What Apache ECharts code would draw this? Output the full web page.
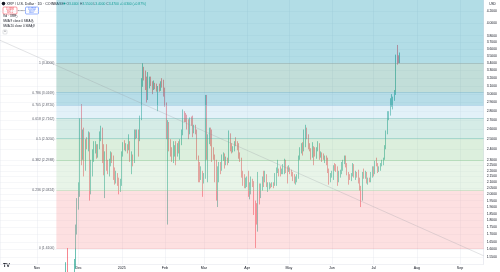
<!DOCTYPE html>
<html><head><meta charset="utf-8">
<script src="https://cdn.jsdelivr.net/npm/echarts@6/dist/echarts.min.js"></script>
<style>html,body{margin:0;padding:0;background:#fff}#c{width:500px;height:272px}</style>
</head><body><div id="c"></div>
<script>
// Daily candles [open, high, low, close], XRP / U.S. Dollar, 1D, COINBASE
const nov24 = [ // from Nov 18
[1.05,1.17,1.03,1.12],[1.12,1.14,1.06,1.08],[1.08,1.13,1.05,1.10],[1.10,1.38,1.08,1.36],[1.36,1.52,1.34,1.50],
[1.50,1.61,1.40,1.45],[1.45,1.50,1.36,1.42],[1.42,1.48,1.34,1.40],[1.40,1.45,1.33,1.38],[1.38,1.49,1.35,1.46],
[1.46,1.54,1.43,1.50],[1.50,1.77,1.48,1.72],[1.72,1.97,1.70,1.93]];
const dec24 = [
[1.93,2.10,1.88,2.05],[2.05,2.72,1.98,2.66],[2.66,2.88,2.25,2.52],[2.52,2.60,2.30,2.57],[2.57,2.62,2.15,2.24],
[2.24,2.50,2.20,2.46],[2.46,2.52,2.40,2.44],[2.44,2.58,2.38,2.55],[2.55,2.57,1.95,2.12],[2.12,2.30,2.00,2.18],
[2.18,2.40,2.15,2.35],[2.35,2.48,2.28,2.42],[2.42,2.48,2.36,2.43],[2.43,2.45,2.31,2.36],[2.36,2.45,2.32,2.43],
[2.43,2.58,2.40,2.52],[2.52,2.64,2.48,2.60],[2.60,2.62,2.27,2.32],[2.32,2.45,2.16,2.30],[2.30,2.38,1.97,2.33],
[2.33,2.45,2.20,2.25],[2.25,2.30,2.17,2.22],[2.22,2.31,2.15,2.27],[2.27,2.38,2.24,2.35],[2.35,2.37,2.27,2.30],
[2.30,2.34,2.12,2.16],[2.16,2.23,2.08,2.13],[2.13,2.20,2.09,2.15],[2.15,2.18,2.07,2.08],[2.08,2.14,2.00,2.04],
[2.04,2.13,2.02,2.08]];
const jan25 = [
[2.08,2.38,2.07,2.36],[2.36,2.47,2.33,2.44],[2.44,2.49,2.39,2.43],[2.43,2.46,2.38,2.44],[2.44,2.45,2.36,2.41],
[2.41,2.55,2.39,2.43],[2.43,2.48,2.28,2.31],[2.31,2.38,2.17,2.32],[2.32,2.35,2.24,2.28],[2.28,2.60,2.27,2.57],
[2.57,2.60,2.50,2.55],[2.55,2.60,2.51,2.55],[2.55,2.60,2.33,2.50],[2.50,2.75,2.48,2.73],[2.73,3.20,2.70,3.13],
[3.13,3.40,3.09,3.28],[3.28,3.35,3.17,3.27],[3.27,3.30,3.05,3.16],[3.16,3.22,2.90,3.00],[3.00,3.28,2.93,3.13],
[3.13,3.22,3.07,3.19],[3.19,3.22,3.10,3.13],[3.13,3.16,3.00,3.07],[3.07,3.17,3.05,3.12],[3.12,3.14,3.06,3.11],
[3.11,3.13,3.03,3.05],[3.05,3.10,2.80,3.09],[3.09,3.13,3.03,3.07],[3.07,3.16,3.04,3.14],[3.14,3.20,3.08,3.12],
[3.12,3.18,2.97,3.04]];
const feb25 = [
[3.04,3.08,2.85,2.88],[2.88,2.90,2.50,2.55],[2.55,2.70,1.77,2.60],[2.60,2.68,2.38,2.45],[2.45,2.50,2.33,2.38],
[2.38,2.42,2.28,2.32],[2.32,2.48,2.27,2.36],[2.36,2.44,2.33,2.41],[2.41,2.48,2.25,2.40],[2.40,2.46,2.33,2.43],
[2.43,2.48,2.36,2.40],[2.40,2.50,2.30,2.47],[2.47,2.60,2.44,2.55],[2.55,2.82,2.54,2.76],[2.76,2.80,2.68,2.72],
[2.72,2.78,2.68,2.71],[2.71,2.76,2.60,2.69],[2.69,2.71,2.50,2.57],[2.57,2.73,2.55,2.70],[2.70,2.74,2.64,2.69],
[2.69,2.75,2.52,2.58],[2.58,2.65,2.56,2.62],[2.62,2.65,2.55,2.58],[2.58,2.60,2.30,2.32],[2.32,2.34,2.10,2.25],
[2.25,2.28,2.10,2.14],[2.14,2.24,2.12,2.18],[2.18,2.20,1.98,2.13]];
const mar25 = [
[2.13,2.18,2.09,2.15],[2.15,2.99,2.13,2.90],[2.90,2.99,2.30,2.38],[2.38,2.55,2.10,2.50],[2.50,2.62,2.45,2.58],
[2.58,2.62,2.43,2.47],[2.47,2.60,2.28,2.38],[2.38,2.42,2.30,2.33],[2.33,2.35,2.10,2.13],[2.13,2.30,1.95,2.02],
[2.02,2.24,1.90,2.20],[2.20,2.28,2.10,2.25],[2.25,2.28,2.17,2.22],[2.22,2.35,2.20,2.33],[2.33,2.37,2.29,2.34],
[2.34,2.36,2.22,2.26],[2.26,2.33,2.25,2.30],[2.30,2.32,2.25,2.28],[2.28,2.59,2.27,2.47],[2.47,2.56,2.38,2.42],
[2.42,2.46,2.36,2.39],[2.39,2.43,2.37,2.40],[2.40,2.48,2.38,2.46],[2.46,2.52,2.43,2.44],[2.44,2.48,2.39,2.42],
[2.42,2.46,2.31,2.34],[2.34,2.37,2.28,2.31],[2.31,2.32,2.14,2.18],[2.18,2.20,2.07,2.12],[2.12,2.17,2.05,2.08],
[2.08,2.14,2.05,2.09]];
const apr25 = [
[2.09,2.15,2.06,2.12],[2.12,2.20,1.98,2.03],[2.03,2.10,1.96,2.06],[2.06,2.15,2.00,2.12],[2.12,2.13,2.06,2.09],
[2.09,2.11,1.84,1.86],[1.86,1.95,1.61,1.80],[1.80,1.93,1.77,1.79],[1.79,2.19,1.72,2.07],[2.07,2.09,1.92,1.98],
[1.98,2.09,1.97,2.06],[2.06,2.15,2.03,2.13],[2.13,2.20,2.06,2.12],[2.12,2.20,2.10,2.14],[2.14,2.17,2.06,2.07],
[2.07,2.10,2.02,2.08],[2.08,2.10,2.04,2.08],[2.08,2.09,2.05,2.07],[2.07,2.10,2.06,2.09],[2.09,2.10,2.05,2.08],
[2.08,2.18,2.07,2.10],[2.10,2.23,2.07,2.21],[2.21,2.30,2.18,2.21],[2.21,2.22,2.15,2.20],[2.20,2.24,2.15,2.19],
[2.19,2.22,2.17,2.19],[2.19,2.26,2.17,2.21],[2.21,2.31,2.17,2.29],[2.29,2.30,2.18,2.21],[2.21,2.24,2.09,2.20]];
const may25 = [
[2.20,2.25,2.19,2.21],[2.21,2.23,2.17,2.20],[2.20,2.21,2.15,2.17],[2.17,2.19,2.11,2.14],[2.14,2.17,2.09,2.12],
[2.12,2.15,2.08,2.13],[2.13,2.17,2.10,2.14],[2.14,2.34,2.13,2.32],[2.32,2.42,2.30,2.38],[2.38,2.46,2.36,2.44],
[2.44,2.47,2.34,2.41],[2.41,2.60,2.38,2.43],[2.43,2.65,2.42,2.59],[2.59,2.62,2.50,2.52],[2.52,2.55,2.40,2.43],
[2.43,2.46,2.38,2.40],[2.40,2.41,2.30,2.33],[2.33,2.47,2.32,2.42],[2.42,2.43,2.25,2.37],[2.37,2.42,2.33,2.36],
[2.36,2.42,2.31,2.40],[2.40,2.48,2.38,2.43],[2.43,2.46,2.30,2.33],[2.33,2.38,2.32,2.35],[2.35,2.37,2.28,2.33],
[2.33,2.36,2.30,2.31],[2.31,2.34,2.27,2.32],[2.32,2.34,2.25,2.27],[2.27,2.32,2.18,2.20],[2.20,2.22,2.08,2.13],
[2.13,2.18,2.10,2.16]];
const jun25 = [
[2.16,2.20,2.14,2.18],[2.18,2.25,2.12,2.23],[2.23,2.27,2.20,2.22],[2.22,2.26,2.19,2.20],[2.20,2.24,2.07,2.13],
[2.13,2.20,2.10,2.17],[2.17,2.21,2.14,2.19],[2.19,2.28,2.17,2.27],[2.27,2.30,2.20,2.28],[2.28,2.34,2.26,2.31],
[2.31,2.34,2.23,2.26],[2.26,2.27,2.16,2.17],[2.17,2.19,2.08,2.15],[2.15,2.17,2.12,2.14],[2.14,2.18,2.11,2.16],
[2.16,2.27,2.15,2.24],[2.24,2.26,2.14,2.16],[2.16,2.20,2.12,2.17],[2.17,2.19,2.14,2.16],[2.16,2.21,2.09,2.12],
[2.12,2.14,2.03,2.05],[2.05,2.07,1.90,1.97],[1.97,2.19,1.95,2.18],[2.18,2.22,2.13,2.17],[2.17,2.20,2.13,2.18],
[2.18,2.19,2.09,2.10],[2.10,2.14,2.08,2.12],[2.12,2.14,2.10,2.11],[2.11,2.19,2.10,2.17],[2.17,2.24,2.14,2.23]];
const jul25 = [
[2.23,2.24,2.15,2.19],[2.19,2.29,2.17,2.27],[2.27,2.32,2.24,2.26],[2.26,2.27,2.18,2.21],[2.21,2.24,2.19,2.22],
[2.22,2.27,2.20,2.26],[2.26,2.30,2.24,2.28],[2.28,2.32,2.25,2.31],[2.31,2.44,2.30,2.42],[2.42,2.59,2.40,2.56],
[2.56,2.80,2.55,2.74],[2.74,2.80,2.70,2.76],[2.76,2.95,2.75,2.88],[2.88,3.00,2.85,2.93],[2.93,2.97,2.82,2.95],
[2.95,3.05,2.92,3.01],[3.01,3.52,2.99,3.46],[3.46,3.66,3.38,3.45],[3.45,3.51,3.40,3.44],[3.44,3.55,3.40,3.47]];
// month blocks: [year, monthIndex, firstDay, candles]
const months = [[2024,10,18,nov24],[2024,11,1,dec24],[2025,0,1,jan25],[2025,1,1,feb25],[2025,2,1,mar25],
  [2025,3,1,apr25],[2025,4,1,may25],[2025,5,1,jun25],[2025,6,1,jul25]];

// Fibonacci retracement (anchors) and levels
const fibLow = 1.61, fibHigh = 3.40;
const fibStart = [2024,10,15];
const fibLevels = [0, 0.236, 0.382, 0.5, 0.618, 0.705, 0.786, 1, 1.618];
// Trend line endpoints [date parts, price]
const trendLine = [[[2024,9,5,12], 3.73], [[2025,8,18,0], 1.56]];
// Axis ticks
const priceTicks = [1.55,1.6,1.65,1.7,1.75,1.8,1.85,1.9,1.95,2.0,2.05,2.1,2.15,2.2,2.25,2.3,2.4,2.5,2.6,2.7,2.8,2.9,3.0,3.1,3.2,3.3,3.4,3.5,3.6,3.7,3.8,4.0,4.2];
const monthNames = ['Jan','Feb','Mar','Apr','May','Jun','Jul','Aug','Sep','Oct','Nov','Dec'];

// styling
const fibFill = ['rgba(249,166,169,0.35)','rgba(189,224,189,0.35)','rgba(155,209,158,0.35)','rgba(135,201,184,0.35)',
  'rgba(172,215,235,0.35)','rgba(66,166,195,0.38)','rgba(80,160,145,0.35)','rgba(35,158,184,0.35)'];
const fibLineColor = ['rgba(230,120,125,0.55)','rgba(140,200,140,0.55)','rgba(100,180,110,0.55)','rgba(60,170,150,0.55)',
  'rgba(60,160,150,0.55)','rgba(100,170,210,0.55)','rgba(80,160,200,0.55)','rgba(120,140,140,0.55)','rgba(41,98,255,0.55)'];
const xMin = Date.UTC(2024,9,5,12), xMax = Date.UTC(2025,8,18);
const yMin = 1.509, yMax = 4.39;
const FONT = 'Liberation Sans';
const DAY = 86400000;

const candleData = [];
months.forEach(([y,m,d0,arr]) => arr.forEach((c,i) => {
  candleData.push([Date.UTC(y,m,d0+i), c[0], c[3], c[2], c[1]]);
}));
const last = candleData[candleData.length-1];
const prev = candleData[candleData.length-2];
const fibPrice = r => fibLow + r*(fibHigh-fibLow);
const fibStartTs = Date.UTC(...fibStart);

const zones = [];
for (let i=0;i<fibLevels.length-1;i++){
  zones.push([{xAxis: fibStartTs, yAxis: fibPrice(fibLevels[i]), itemStyle:{color: fibFill[i]}},
              {xAxis: xMax, yAxis: Math.min(fibPrice(fibLevels[i+1]), yMax)}]);
}
const fibLines = [];
fibLevels.forEach((r,i) => {
  const p = fibPrice(r);
  if (p > yMax) return;
  fibLines.push([{coord:[fibStartTs,p], lineStyle:{color: fibLineColor[i]},
     label:{formatter: r + ' (' + p.toFixed(4) + ')'}}, {coord:[xMax,p]}]);
});

const chart = echarts.init(document.getElementById('c'), null, {renderer:'canvas'});
const chg = last[2]-prev[2];
chart.setOption({
  animation:false,
  textStyle:{fontFamily:FONT},
  grid:{left:0, right:15, top:0, bottom:8},
  xAxis:{type:'time', min:xMin, max:xMax, splitNumber:12, minInterval:28*DAY, maxInterval:31*DAY,
    axisLine:{show:true, lineStyle:{color:'#e0e3eb', width:0.5}},
    axisTick:{show:false},
    splitLine:{show:true, lineStyle:{color:'rgba(224,227,235,0.7)', width:0.5}},
    axisLabel:{fontSize:3.6, color:'#131722', margin:2, hideOverlap:false,
      formatter: v => { const d=new Date(v); return d.getUTCMonth()===0 ? String(d.getUTCFullYear()) : monthNames[d.getUTCMonth()]; }}
  },
  yAxis:{type:'log', logBase:10, min:yMin, max:yMax, position:'right',
    axisLine:{show:true, lineStyle:{color:'#e0e3eb', width:0.5}},
    axisTick:{show:false, customValues: priceTicks},
    splitLine:{show:true, lineStyle:{color:'rgba(224,227,235,0.6)', width:0.5}},
    axisLabel:{customValues: priceTicks, fontSize:3.4, color:'#131722', margin:3, formatter: v => v.toFixed(4)}
  },
  series:[
    {type:'candlestick', name:'XRPUSD', data:candleData, z:2, barWidth:1.1,
      itemStyle:{color:'#089981', color0:'#f23645', borderColor:'#089981', borderColor0:'#f23645', borderWidth:0.6},
      markLine:{silent:true, symbol:['none','none'], z:6,
        lineStyle:{opacity:0},
        data:[{yAxis:last[2], label:{position:'end', distance:0, formatter: last[2].toFixed(4)+'\n18:42:07',
          backgroundColor:'#089981', color:'#fff', fontSize:2.8, lineHeight:3.2, padding:[0.8,1.2], fontFamily:FONT}}]}
    },
    {type:'line', name:'fib', data:[], z:3,
      markArea:{silent:true, z:3, data: zones},
      markLine:{silent:true, z:4, symbol:['none','none'],
        lineStyle:{type:'solid', width:0.6},
        label:{position:'start', distance:2, fontSize:3.4, color:'#5d606b', fontFamily:FONT},
        data: fibLines}
    },
    {type:'line', name:'trend', z:5, symbol:'none', silent:true,
      data: trendLine.map(p=>[Date.UTC(...p[0]), p[1]]),
      lineStyle:{color:'#9598a1', width:0.5, opacity:0.55}}
  ],
  graphic:[
    {type:'circle', shape:{cx:3.5, cy:3.6, r:1.8}, style:{fill:'#131722'}},
    {type:'text', x:6.5, y:3.6, style:{text:'XRP / U.S. Dollar · 1D · COINBASE', fontSize:3.6, fill:'#131722', verticalAlign:'middle', fontFamily:FONT}},
    {type:'circle', shape:{cx:64.5, cy:3.6, r:1}, style:{fill:'#089981'}},
    {type:'text', x:66.5, y:3.6, style:{
      text:'O{v|'+last[1].toFixed(4)+'} H{v|'+last[4].toFixed(4)+'} L{v|'+last[3].toFixed(4)+'} C{v|'+last[2].toFixed(4)+'} {v|'+(chg>=0?'+':'')+chg.toFixed(4)+' ('+(chg>=0?'+':'')+(chg/prev[2]*100).toFixed(2)+'%)}',
      rich:{v:{fill:'#089981', fontSize:3.3, fontFamily:FONT}}, fontSize:3.3, fill:'#131722', verticalAlign:'middle', fontFamily:FONT}},
    {type:'rect', shape:{x:3, y:7, width:14, height:7, r:1}, style:{fill:'#fff', stroke:'#f23645', lineWidth:0.5}},
    {type:'text', x:10, y:10.5, style:{text:(last[2]-0.0002).toFixed(4)+'\nSELL', fontSize:2.6, lineHeight:3, fill:'#f23645', align:'center', verticalAlign:'middle', fontFamily:FONT}},
    {type:'text', x:21.2, y:10.5, style:{text:'0.0004', fontSize:2.3, fill:'#131722', align:'center', verticalAlign:'middle', fontFamily:FONT}},
    {type:'rect', shape:{x:25.5, y:7, width:13, height:7, r:1}, style:{fill:'#fff', stroke:'#2962ff', lineWidth:0.5}},
    {type:'text', x:32, y:10.5, style:{text:(last[2]+0.0002).toFixed(4)+'\nBUY', fontSize:2.6, lineHeight:3, fill:'#2962ff', align:'center', verticalAlign:'middle', fontFamily:FONT}},
    {type:'text', x:3, y:16.5, style:{text:'Vol · XRP', fontSize:3.1, fill:'#131722', verticalAlign:'middle', fontFamily:FONT}},
    {type:'circle', shape:{cx:16.5, cy:16.5, r:1}, style:{fill:'none', stroke:'#787b86', lineWidth:0.4}},
    {type:'text', x:3, y:21.5, style:{text:'SMA 9 close 0 SMA 9', fontSize:3.1, fill:'#131722', verticalAlign:'middle', fontFamily:FONT}},
    {type:'circle', shape:{cx:32.5, cy:21.5, r:1}, style:{fill:'none', stroke:'#787b86', lineWidth:0.4}},
    {type:'text', x:3, y:26.5, style:{text:'SMA 20 close 0 SMA 9', fontSize:3.1, fill:'#131722', verticalAlign:'middle', fontFamily:FONT}},
    {type:'circle', shape:{cx:32.5, cy:26.5, r:1}, style:{fill:'none', stroke:'#787b86', lineWidth:0.4}},
    {type:'rect', shape:{x:3, y:30, width:4, height:4, r:0.8}, style:{fill:'#fff', stroke:'#b2b5be', lineWidth:0.4}},
    {type:'text', x:5, y:32.3, style:{text:'^', fontSize:3, fill:'#131722', align:'center', verticalAlign:'middle', fontFamily:FONT}},
    {type:'text', x:492.5, y:4, style:{text:'USD', fontSize:3.2, fill:'#131722', align:'center', verticalAlign:'middle', fontFamily:FONT}},
    {type:'text', x:3, y:265, style:{text:'TV', fontSize:5.5, fontWeight:'bold', fill:'#131722', verticalAlign:'middle', fontFamily:FONT}}
  ]
});
</script></body></html>
